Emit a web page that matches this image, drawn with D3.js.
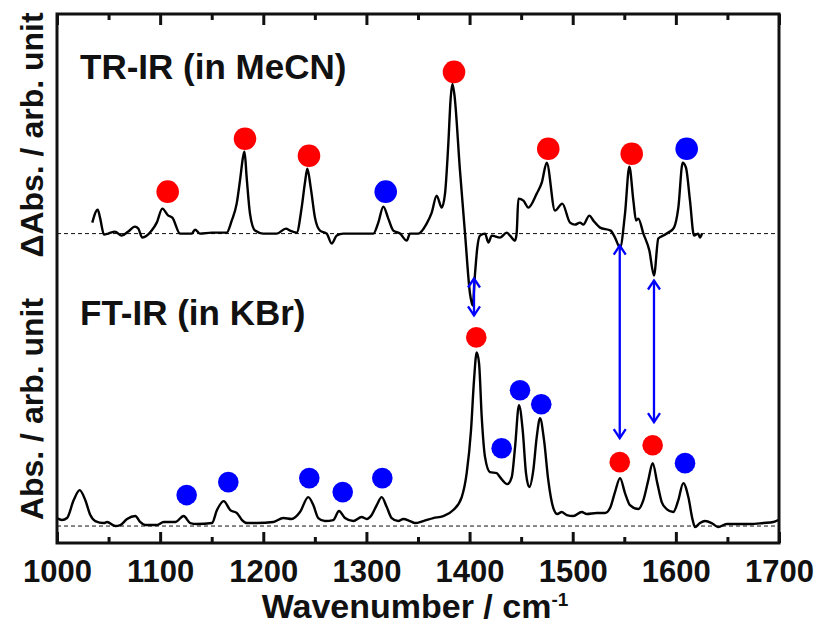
<!DOCTYPE html>
<html>
<head>
<meta charset="utf-8">
<script src="https://cdn.jsdelivr.net/npm/d3@7"></script>
<style>
  body { margin: 0; background: #fff; }
  svg { display: block; }
  text { font-family: "Liberation Sans", Arial, sans-serif; font-weight: bold; fill: #111; }
</style>
</head>
<body>
<div id="chart"></div>
<script>
// TR-IR (in MeCN): wavenumber / cm-1 and ΔAbs (arb. unit)
const trWn = [1034.2, 1039.5, 1041.7, 1045.6, 1049.7, 1056.2, 1062.7, 1069.1, 1075.6, 1078.8, 1082.7, 1091.8,
  1096.7, 1102.1, 1107.9, 1111.8, 1119.3, 1130.6, 1133.8, 1138.6, 1150, 1164.5, 1169.4, 1174.2, 1177.4,
  1180.6, 1181.8, 1183.9, 1187.1, 1192, 1200, 1213, 1222, 1225.9, 1232.4, 1237.2, 1240.4, 1242.7, 1246,
  1250.1, 1255, 1261.5, 1266.3, 1271.2, 1277.6, 1306.7, 1311.5, 1316.4, 1321.2, 1326.1, 1332.6, 1339.1,
  1342.2, 1350.3, 1358.4, 1363.3, 1368.1, 1373, 1376.2, 1379.4, 1381.7, 1383.3, 1385.2, 1390.7, 1395.6,
  1400.4, 1403, 1405.3, 1407.5, 1410.1, 1415, 1418.2, 1421.5, 1429.5, 1436, 1439.2, 1444.1, 1445.7, 1447.3,
  1452.2, 1457, 1465.1, 1470, 1474.8, 1482.8, 1489.9, 1497.4, 1502.2, 1507.1, 1510.3, 1516.1, 1520, 1526.5,
  1536.8, 1541, 1545.9, 1550.7, 1554.9, 1558.8, 1561.4, 1563.6, 1568.5, 1574.3, 1578.8, 1583, 1587.8,
  1592.7, 1598.2, 1602.4, 1606.6, 1609.8, 1613.7, 1617.6, 1621.7, 1623.4, 1625.3];
const trAbs = [11, 24, 16, -1, 0, 2, -2, 2, 7, 5, -4, 3,
  11, 25, 18, 16, 0, 0, 4, 0, 1, 1, 13, 30, 53,
  78, 82, 56, 20, 3, 0, 0, 5, 3, 1, 26, 51, 65, 46,
  16, 3, 0, -10, -2, 0, 0, 11, 27, 15, 3, 0, -7,
  0, 0, 10, 21, 38, 26, 40, 90, 136, 150, 140, 63, 0,
  -60, -72, -40, -14, -2, 0, -9, -2, -4, 1, -2, -7, 1, 35,
  33, 26, 40, 51, 71, 23, 30, 11, 9, 11, 9, 18, 13, 6,
  3, -4, -14, 20, 67, 33, 13, 15, 0, -17, -42, -5, -2,
  1, 6, 26, 71, 66, 33, -2, 0, -4, 0];

// FT-IR (in KBr): wavenumber / cm-1 and Abs (arb. unit)
const ftWn = [1000, 1004.8, 1009.7, 1016.2, 1022, 1027.4, 1032.3, 1037.1, 1045.3, 1048.5, 1056.5, 1061.4,
  1067.9, 1075.9, 1080.8, 1085.6, 1097, 1103.4, 1114.7, 1122.8, 1129.2, 1135.7, 1150.3, 1155.1, 1161.6,
  1168, 1174.5, 1179.4, 1184.2, 1193.9, 1209.7, 1219.4, 1227.5, 1235.6, 1243.6, 1248.5, 1253.3, 1259.8,
  1267.9, 1273.4, 1279.2, 1287.3, 1295.4, 1300.3, 1305.1, 1310, 1314.8, 1319.7, 1324.5, 1330.9, 1335.7,
  1342.2, 1347.1, 1355.1, 1364.8, 1374.5, 1384.2, 1392.4, 1397.2, 1401.4, 1404.3, 1406.9, 1409.2, 1411.8,
  1415, 1419.8, 1426.3, 1429.5, 1436.6, 1440.9, 1444.1, 1447.9, 1451.5, 1454.7, 1457.9, 1461.8, 1465.1,
  1468.3, 1472.2, 1476.3, 1481.2, 1485.1, 1489.3, 1494.2, 1500.6, 1508.7, 1513.6, 1523.3, 1531.3, 1536.2,
  1541, 1545.9, 1550.7, 1555.5, 1563.6, 1568.5, 1573.3, 1577.5, 1582, 1586.3, 1591.1, 1597.5, 1602.4,
  1607.2, 1612.1, 1616.3, 1618.6, 1623.4, 1628.3, 1634.7, 1641.1, 1649.3, 1659, 1671.9, 1684.8, 1694.5,
  1699.3];
const ftAbs = [8, 6, 8, 26, 36, 26, 11, 5, 3, 4, 0, 1,
  7, 10, 4, 1, 1, 4, 4, 10, 3, 2, 3, 16, 25,
  16, 13, 6, 3, 3, 4, 8, 7, 14, 29, 21, 8, 5,
  6, 15, 8, 5, 9, 7, 11, 21, 29, 19, 8, 5, 7,
  5, 3, 5, 8, 10, 16, 29, 53, 96, 146, 174, 163, 109,
  69, 54, 53, 49, 42, 49, 79, 121, 96, 53, 39, 56, 89,
  108, 86, 46, 18, 12, 14, 11, 10, 14, 12, 13, 13, 18,
  34, 48, 33, 21, 17, 26, 46, 63, 43, 24, 17, 14, 26,
  43, 29, 6, -1, 3, 5, 3, -1, 2, 2, 2, 3, 4,
  6];

// band markers (wavenumber, height above own baseline, colour)
const trMarkWn = [1107.3, 1182.3, 1244.3, 1318.7, 1384.9, 1476.3, 1557.2, 1610.5];
const trMarkY = [42, 95, 78, 42, 162, 85, 80, 85];
const trMarkColor = ["red", "red", "red", "blue", "red", "red", "red", "blue"];
const ftMarkWn = [1125.7, 1166.1, 1244.6, 1277, 1315.4, 1406.5, 1431.1, 1448.9, 1469.5, 1545.6, 1577.5, 1608.9];
const ftMarkY = [31, 44, 48, 34, 48, 189, 78, 136, 122, 64, 81, 63];
const ftMarkColor = ["blue", "blue", "blue", "blue", "blue", "red", "blue", "blue", "blue", "red", "red", "blue"];

// correspondence arrows: wavenumber, y from / to (plot units)
const arrowWn = [1404.3, 1545.6, 1578.8];
const arrowTop = [265, 298, 263];
const arrowBottom = [228, 105, 121];

const xTicks = [1000, 1100, 1200, 1300, 1400, 1500, 1600, 1700];
const xMinorTicks = [1050, 1150, 1250, 1350, 1450, 1550, 1650];

const trOffset = 310;
const ftOffset = 17;

const width = 821, height = 625;
const margin = { top: 14, right: 42, bottom: 82, left: 57 };

const svg = d3.select("#chart").append("svg")
  .attr("width", width)
  .attr("height", height);

const x = d3.scaleLinear().domain([1000, 1700]).range([margin.left, width - margin.right]);
const y = d3.scaleLinear().domain([0, 530]).range([height - margin.bottom, margin.top]);

const colors = { red: "#ff0000", blue: "#0000ff" };

// dashed zero lines
[trOffset, ftOffset].forEach(off => {
  svg.append("line")
    .attr("x1", x(1000)).attr("x2", x(1700))
    .attr("y1", y(off)).attr("y2", y(off))
    .attr("stroke", "#111")
    .attr("stroke-width", 1)
    .attr("stroke-dasharray", "4,3");
});

const line = d3.line()
  .curve(d3.curveMonotoneX)
  .x(d => x(d[0]))
  .y(d => y(d[1]));

svg.append("path")
  .datum(trWn.map((w, i) => [w, trAbs[i] + trOffset]))
  .attr("d", line)
  .attr("fill", "none")
  .attr("stroke", "#000")
  .attr("stroke-width", 2.4)
  .attr("stroke-linejoin", "round");

svg.append("path")
  .datum(ftWn.map((w, i) => [w, ftAbs[i] + ftOffset]))
  .attr("d", line)
  .attr("fill", "none")
  .attr("stroke", "#000")
  .attr("stroke-width", 2.4)
  .attr("stroke-linejoin", "round");

// markers
svg.selectAll(".tr-mark")
  .data(trMarkWn.map((w, i) => ({ w, v: trMarkY[i] + trOffset, c: trMarkColor[i] })))
  .enter().append("circle")
  .attr("class", "tr-mark")
  .attr("cx", d => x(d.w))
  .attr("cy", d => y(d.v))
  .attr("r", 11.3)
  .attr("fill", d => colors[d.c]);

svg.selectAll(".ft-mark")
  .data(ftMarkWn.map((w, i) => ({ w, v: ftMarkY[i] + ftOffset, c: ftMarkColor[i] })))
  .enter().append("circle")
  .attr("class", "ft-mark")
  .attr("cx", d => x(d.w))
  .attr("cy", d => y(d.v))
  .attr("r", 10.3)
  .attr("fill", d => colors[d.c]);

// double headed arrows
arrowWn.forEach((w, i) => {
  const ax = x(w), y1 = y(arrowTop[i]), y2 = y(arrowBottom[i]);
  const g = svg.append("g")
    .attr("stroke", "#0000ff")
    .attr("stroke-width", 2.3)
    .attr("fill", "none");
  g.append("line").attr("x1", ax).attr("x2", ax).attr("y1", y1).attr("y2", y2);
  g.append("path").attr("d", `M${ax - 6},${y1 + 9}L${ax},${y1}L${ax + 6},${y1 + 9}`);
  g.append("path").attr("d", `M${ax - 6},${y2 - 9}L${ax},${y2}L${ax + 6},${y2 - 9}`);
});

// frame
svg.append("rect")
  .attr("x", x(1000))
  .attr("y", margin.top)
  .attr("width", x(1700) - x(1000))
  .attr("height", height - margin.bottom - margin.top)
  .attr("fill", "none")
  .attr("stroke", "#111")
  .attr("stroke-width", 3);

// ticks (inward) on bottom and top
const bottomAxis = svg.append("g")
  .attr("transform", `translate(0,${height - margin.bottom})`)
  .call(d3.axisBottom(x).tickValues(xTicks).tickSize(-11).tickPadding(17).tickFormat(d3.format("d")));
const bottomMinor = svg.append("g")
  .attr("transform", `translate(0,${height - margin.bottom})`)
  .call(d3.axisBottom(x).tickValues(xMinorTicks).tickSize(-6).tickFormat(""));
const topAxis = svg.append("g")
  .attr("transform", `translate(0,${margin.top})`)
  .call(d3.axisTop(x).tickValues(xTicks).tickSize(-11).tickFormat(""));
const topMinor = svg.append("g")
  .attr("transform", `translate(0,${margin.top})`)
  .call(d3.axisTop(x).tickValues(xMinorTicks).tickSize(-6).tickFormat(""));

[bottomAxis, bottomMinor, topAxis, topMinor].forEach(g => {
  g.select(".domain").remove();
  g.selectAll(".tick line").attr("stroke", "#111").attr("stroke-width", 3);
});
bottomAxis.selectAll(".tick text")
  .attr("font-family", "Liberation Sans, Arial, sans-serif")
  .attr("font-weight", "bold")
  .attr("font-size", 31)
  .attr("fill", "#111");

// x label
const xl = svg.append("text")
  .attr("x", 415)
  .attr("y", 618)
  .attr("text-anchor", "middle")
  .style("font-size", "34px");
xl.append("tspan").text("Wavenumber / cm");
xl.append("tspan").attr("dy", -12).style("font-size", "19px").text("-1");

// y labels
svg.append("text")
  .attr("transform", "translate(43,135) rotate(-90)")
  .attr("text-anchor", "middle")
  .style("font-size", "32px")
  .text("ΔAbs. / arb. unit");
svg.append("text")
  .attr("transform", "translate(43,409) rotate(-90)")
  .attr("text-anchor", "middle")
  .style("font-size", "32px")
  .text("Abs. / arb. unit");

// spectrum titles
svg.append("text")
  .attr("x", 80).attr("y", 79)
  .style("font-size", "35px")
  .text("TR-IR (in MeCN)");
svg.append("text")
  .attr("x", 80).attr("y", 325)
  .style("font-size", "35px")
  .text("FT-IR (in KBr)");
</script>
</body>
</html>
